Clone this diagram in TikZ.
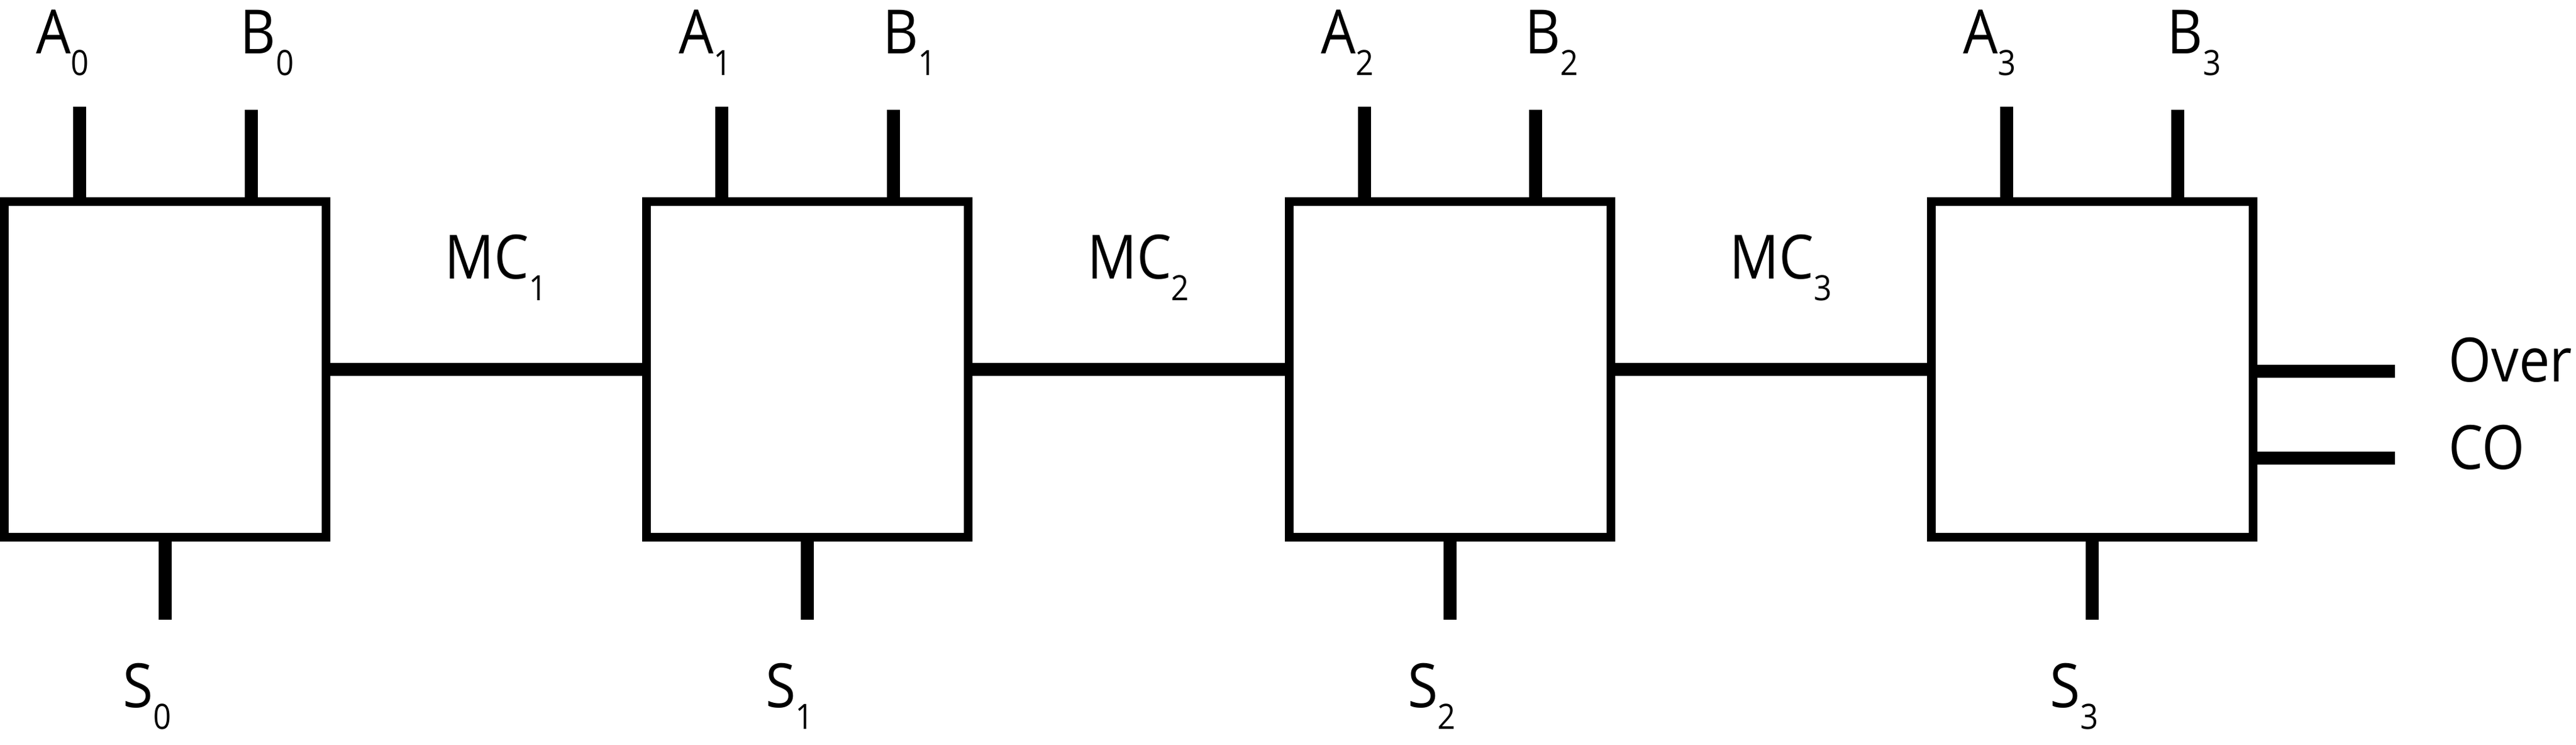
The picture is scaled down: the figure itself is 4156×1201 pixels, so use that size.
\documentclass[tikz,border=0pt]{standalone}
\usepackage{fontspec}
\setmainfont{Open Sans}[FakeStretch=0.9]
\usetikzlibrary{positioning}
\newcommand{\idx}[1]{\raisebox{-3.5mm}{\fontsize{16pt}{16pt}\selectfont #1}}
\tikzset{
  block/.style={draw, line width=1.4mm, minimum width=51.9mm, minimum height=54.1mm, inner sep=0pt},
  wire/.style={line width=2.1mm},
  lbl/.style={inner sep=0pt, anchor=base west, font=\fontsize{28pt}{30pt}\selectfont}
}
\begin{document}
\begin{tikzpicture}[x=0.1mm,y=-0.1mm]
			%%%%% START %%%%%
			\useasboundingbox (0,0) rectangle (4156,1201);
			
			\foreach \i in {0,...,3}{
				\node[block] (blk\i) at (266.5+1036.3*\i, 595.5) {};
				\coordinate (a\i) at ([xshift=-13.8mm,yshift=14.6mm]blk\i.north);
				\coordinate (b\i) at ([xshift=13.85mm,yshift=14.1mm]blk\i.north);
				\coordinate (s\i) at ([yshift=-12.6mm]blk\i.south);
				\draw[wire] ([xshift=-13.8mm]blk\i.north) -- (a\i);
				\draw[wire] ([xshift=13.85mm]blk\i.north) -- (b\i);
				\draw[wire] (blk\i.south) -- (s\i);
				\node[lbl] (la\i) at (58+1036.3*\i, 87) {A\idx{\i}};
				\node[lbl] (lb\i) at (387+1036.3*\i, 87) {B\idx{\i}};
				\node[lbl] (ls\i) at (198+1036.3*\i, 1141) {S\idx{\i}};
			}
			
			\foreach \i in {1,2,3}{
				\pgfmathtruncatemacro{\j}{\i-1}
				\draw[wire] (blk\j.east) -- (blk\i.west);
				\node[lbl] (mc\i) at (717+1036.3*\j, 450) {MC\idx{\i}};
			}
			
			\coordinate (ov) at ([xshift=22.2mm,yshift=-0.3mm]blk3.east);
			\coordinate (co) at ([xshift=22.2mm,yshift=-14.3mm]blk3.east);
			\draw[wire] ([yshift=-0.3mm]blk3.east) -- (ov);
			\draw[wire] ([yshift=-14.3mm]blk3.east) -- (co);
			\node[lbl] (lov) at (3950, 616) {Over};
			\node[lbl] (lco) at (3950, 757) {CO};
			
			%%%%% END %%%%%
		\end{tikzpicture}
\end{document}
